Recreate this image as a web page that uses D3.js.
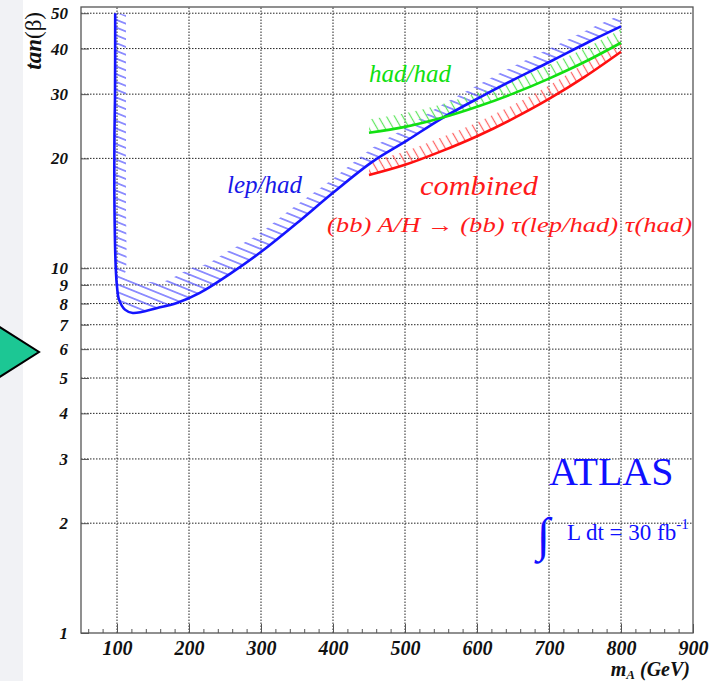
<!DOCTYPE html>
<html>
<head>
<meta charset="utf-8">
<script src="https://cdn.jsdelivr.net/npm/d3@7"></script>
<style>
body { margin: 0; background: #fff; }
svg { display: block; }
.tick text { font-family: "Liberation Serif", serif; font-weight: bold; font-style: italic; font-size: 20px; fill: #111; }
.yax .tick text { font-size: 17px; }
.tick line { stroke: #555; }
.lbl { font-family: "Liberation Serif", serif; font-style: italic; }
</style>
</head>
<body>
<script>
// axis ticks
var xTicks = [100, 200, 300, 400, 500, 600, 700, 800, 900];
var xMinor = [60, 80, 120, 140, 160, 180, 220, 240, 260, 280, 320, 340, 360, 380,
              420, 440, 460, 480, 520, 540, 560, 580, 620, 640, 660, 680,
              720, 740, 760, 780, 820, 840, 860, 880];
var yTicks = [1, 2, 3, 4, 5, 6, 7, 8, 9, 10, 20, 30, 40, 50];
var xGrid = [100, 200, 300, 400, 500, 600, 700, 800];
var yGrid = [2, 3, 4, 5, 6, 7, 8, 9, 10, 20, 30, 40, 50];

// exclusion contours [mA, tanb] and the outer edge of their hatching
var lepHad = [[97.5, 50], [97.2, 29], [96.5, 23.5], [96.5, 14.7], [98.2, 10.1], [100, 8.9],
              [102.8, 8.2], [111, 7.7], [122, 7.54], [156, 7.78], [183, 8.03], [215, 8.56],
              [261, 9.77], [303, 11.2], [350, 13.3], [400, 16.1], [455, 19.6], [503, 22.4],
              [549, 25.6], [604, 29.4], [650, 32.8], [701, 36.8], [753, 41.5], [800, 46]];
var lepHadEdge = [[112.5, 49.5], [112.5, 30], [112.5, 15], [112.5, 9.9], [110, 9.45], [146, 9.17],
                  [167, 9.23], [203, 10.0], [226, 10.3], [250, 11.0], [294, 12.3], [340, 14.45],
                  [400, 17.6], [455, 21.4], [503, 24.4], [549, 27.9], [604, 32.0], [650, 35.7],
                  [701, 40.0], [753, 45.0], [800, 49.5]];
var hadHad = [[450, 23.5], [500, 24.4], [550, 25.8], [600, 27.7], [650, 30.1], [700, 33.1],
              [750, 36.8], [800, 41.5]];
var hadHadEdge = [[450, 25.6], [500, 26.6], [550, 28.1], [600, 30.2], [650, 32.8], [700, 36.1],
                  [750, 40.1], [800, 45.2]];
var combined = [[450, 18.0], [500, 19.2], [550, 20.9], [600, 23.0], [650, 25.7], [700, 29.1],
                [750, 33.5], [800, 39.2]];
var combinedEdge = [[450, 19.6], [500, 20.9], [550, 22.8], [600, 25.1], [650, 28.0], [700, 31.7],
                    [750, 36.5], [800, 42.7]];

var width = 717, height = 681;
var svg = d3.select("body").append("svg").attr("width", width).attr("height", height);
var defs = svg.append("defs");

var x = d3.scaleLinear().domain([50, 900]).range([81, 693]);
var y = d3.scaleLog().domain([1, 52]).range([633, 7]);

// pale strip of the slide background on the left
svg.append("rect").attr("x", 0).attr("y", 0).attr("width", 23).attr("height", height)
   .style("fill", "#f1f2f5");

// green pointer
svg.append("path")
   .attr("d", "M-2,326 L39,352 L-2,378 Z")
   .style("fill", "#1cc794").style("stroke", "#000").style("stroke-width", 2);

// grid
svg.selectAll(".gx").data(xGrid).enter().append("line")
   .attr("x1", function (d) { return x(d); }).attr("x2", function (d) { return x(d); })
   .attr("y1", y.range()[0]).attr("y2", y.range()[1])
   .style("stroke", "#222").style("stroke-width", 1).style("stroke-dasharray", "1.5,1.5");
svg.selectAll(".gy").data(yGrid).enter().append("line")
   .attr("x1", x.range()[0]).attr("x2", x.range()[1])
   .attr("y1", function (d) { return y(d); }).attr("y2", function (d) { return y(d); })
   .style("stroke", "#222").style("stroke-width", 1).style("stroke-dasharray", "1.5,1.5");

// axes
var gx = svg.append("g").attr("transform", "translate(0,633)")
   .call(d3.axisBottom(x).tickValues(xTicks).tickSize(-9).tickPadding(8).tickFormat(d3.format("d")));
var gxm = svg.append("g").attr("transform", "translate(0,633)")
   .call(d3.axisBottom(x).tickValues(xMinor).tickSize(-4).tickFormat(""));
var gy = svg.append("g").attr("class", "yax").attr("transform", "translate(81,0)")
   .call(d3.axisLeft(y).tickValues(yTicks).tickSize(-8).tickPadding(13).tickFormat(d3.format("d")));
[gx, gxm, gy].forEach(function (g) { g.select(".domain").remove(); });

svg.append("rect").attr("x", 81).attr("y", 7).attr("width", 612).attr("height", 626)
   .style("fill", "none").style("stroke", "#555").style("stroke-width", 1.3);

// hatch patterns
function addHatch(id, color, spacing, angle) {
    var p = defs.append("pattern").attr("id", id)
        .attr("patternUnits", "userSpaceOnUse")
        .attr("width", 20).attr("height", spacing)
        .attr("patternTransform", "rotate(" + angle + ")");
    p.append("line").attr("x1", -1).attr("x2", 21)
        .attr("y1", spacing / 2).attr("y2", spacing / 2)
        .style("stroke", color).style("stroke-width", 1.2);
}
addHatch("hBlue", "#5050ff", 7.2, 22);
addHatch("hGreen", "#5ee65e", 7, 60);
addHatch("hRed", "#ff6262", 7, 60);

var line = d3.line()
    .x(function (d) { return x(d[0]); })
    .y(function (d) { return y(d[1]); })
    .curve(d3.curveCatmullRom.alpha(0.5));

function band(curve, edge, fill) {
    var d = line(curve) + "L" + line(edge.slice().reverse()).slice(1) + "Z";
    svg.append("path").attr("d", d).style("fill", "url(#" + fill + ")").style("stroke", "none");
}
band(lepHad, lepHadEdge, "hBlue");
band(combined, combinedEdge, "hRed");
band(hadHad, hadHadEdge, "hGreen");

function contour(curve, color) {
    svg.append("path").attr("d", line(curve))
       .style("fill", "none").style("stroke", color).style("stroke-width", 2.6)
       .style("stroke-linejoin", "round");
}
contour(combined, "#ff1010");
contour(lepHad, "#1414ff");
contour(hadHad, "#12e012");

// labels
svg.append("text").attr("class", "lbl").attr("x", 227).attr("y", 193)
   .style("font-size", "25px").style("fill", "#1818e8").text("lep/had");
svg.append("text").attr("class", "lbl").attr("x", 369).attr("y", 82)
   .style("font-size", "25px").style("fill", "#10e010").text("had/had");
svg.append("text").attr("class", "lbl").attr("x", 420).attr("y", 195)
   .attr("textLength", 118).attr("lengthAdjust", "spacingAndGlyphs")
   .style("font-size", "28px").style("fill", "#ff1a1a").text("combined");
svg.append("text").attr("class", "lbl").attr("x", 327).attr("y", 232)
   .attr("textLength", 365).attr("lengthAdjust", "spacingAndGlyphs")
   .style("font-size", "22px").style("fill", "#ff1a1a")
   .text("(bb) A/H \u2192 (bb) \u03c4(lep/had) \u03c4(had)");

svg.append("text").attr("x", 549).attr("y", 485)
   .style("font-family", "Liberation Serif, serif").style("font-size", "40px")
   .style("fill", "#1010ff").text("ATLAS");
svg.append("text").attr("x", 537).attr("y", 551)
   .style("font-family", "Liberation Serif, serif").style("font-size", "48px")
   .style("fill", "#1010ff").text("\u222b");
var lumi = svg.append("text").attr("x", 567).attr("y", 540)
   .style("font-family", "Liberation Serif, serif").style("font-size", "23px")
   .style("fill", "#1010ff");
lumi.append("tspan").text("L dt = 30 fb");
lumi.append("tspan").attr("dy", -11).style("font-size", "15px").text("-1");

// axis titles
var xt = svg.append("text").attr("x", 690).attr("y", 676).attr("text-anchor", "end")
   .style("font-family", "Liberation Serif, serif").style("font-weight", "bold")
   .style("font-style", "italic").style("font-size", "20px").style("fill", "#111");
xt.append("tspan").text("m");
xt.append("tspan").attr("dy", 3).style("font-size", "13px").text("A");
xt.append("tspan").attr("dy", -3).text(" (GeV)");

var yt = svg.append("text").attr("transform", "translate(41,12) rotate(-90)")
   .attr("text-anchor", "end")
   .style("font-family", "Liberation Serif, serif").style("font-size", "23px").style("fill", "#111");
yt.append("tspan").style("font-weight", "bold").style("font-style", "italic").text("tan");
yt.append("tspan").text("(\u03b2)");
</script>
</body>
</html>
